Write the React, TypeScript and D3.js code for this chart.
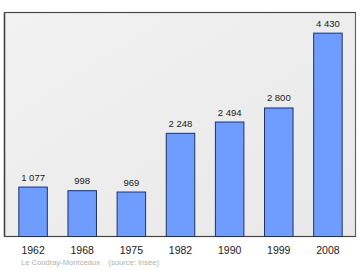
import React from "react";
import * as d3 from "d3";

const years = ["1962", "1968", "1975", "1982", "1990", "1999", "2008"];
const population = [1077, 998, 969, 2248, 2494, 2800, 4430];
const valueLabels = ["1 077", "998", "969", "2 248", "2 494", "2 800", "4 430"];
const sourceText = "Le Coudray-Montceaux    (source: Insee)";

export default function App() {
  const W = 360, H = 270;
  const left = 4.5, top = 12.5, right = 355.5, bottom = 236.5;
  const x = d3.scaleBand<string>().domain(years).range([8.5, 352.5]).paddingInner(0.42).paddingOuter(0.21);
  const y = d3.scaleLinear().domain([0, 4880]).range([bottom, top]);
  return (
    <svg width={W} height={H} style={{ position: "absolute", left: 0, top: 0 }}>
      <defs>
        <linearGradient id="bg" x1="0" y1="0" x2="1" y2="1">
          <stop offset="0" stopColor="#f2f2f2" />
          <stop offset="1" stopColor="#e8e8e8" />
        </linearGradient>
      </defs>
      <rect x={0} y={0} width={W} height={H} fill="#fff" />
      <rect x={left} y={top} width={right - left} height={bottom - top} fill="url(#bg)" stroke="#666" strokeWidth={1.2} />
      <line x1={left} y1={top} x2={left} y2={bottom} stroke="#444" strokeWidth={1.5} />
      <line x1={left} y1={top} x2={right} y2={top} stroke="#444" strokeWidth={1.2} />
      <line x1={left} y1={bottom} x2={right} y2={bottom} stroke="#444" strokeWidth={1.2} />
      {years.map((yr, i) => {
        const bx = x(yr)!;
        const by = y(population[i]);
        return (
          <g key={yr}>
            <rect x={bx} y={by} width={x.bandwidth()} height={bottom - by} fill="#6f9cff" stroke="#22325e" strokeWidth={1} />
            <text x={bx + x.bandwidth() / 2} y={by - 6.5} textAnchor="middle" fontFamily="Liberation Sans, Arial, sans-serif" fontSize={9.5} fill="#222">
              {valueLabels[i]}
            </text>
            <text x={bx + x.bandwidth() / 2} y={254} textAnchor="middle" fontFamily="Liberation Sans, Arial, sans-serif" fontSize={10.5} fill="#222">
              {yr}
            </text>
          </g>
        );
      })}
      <text x={21} y={265} fontFamily="Liberation Sans, Arial, sans-serif" fontSize={7.6} fill="#b0b0b0" style={{ whiteSpace: "pre" }}>
        {sourceText}
      </text>
    </svg>
  );
}
